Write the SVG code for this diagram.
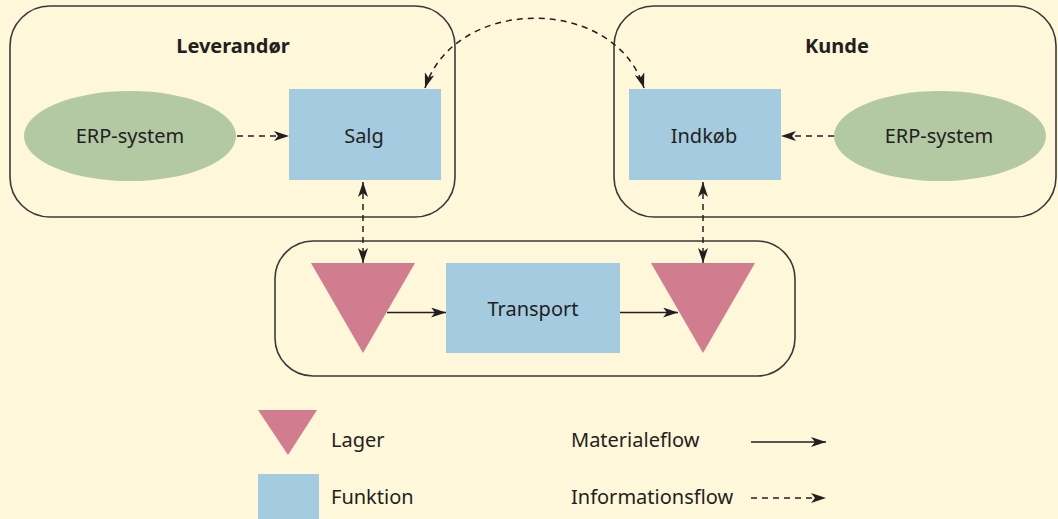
<svg xmlns="http://www.w3.org/2000/svg" width="1058" height="519" viewBox="0 0 1058 519">
<defs>
<style>
.bg{fill:#FEF7D9}
.box{fill:none;stroke:#3a3a3a;stroke-width:1.6}
.func{fill:#A4CBDF}
.erp{fill:#B2C9A3}
.lager{fill:#D27D8F}
.t{font-family:"Noto Sans","Liberation Sans",sans-serif;font-size:20px;fill:#231F20}
.c{text-anchor:middle}
.b{font-weight:bold}
.info{fill:none;stroke:#231F20;stroke-width:1.5;stroke-dasharray:6 5}
.mat{fill:none;stroke:#231F20;stroke-width:1.5}
</style>
<marker id="ah" viewBox="0 0 15 10" refX="15" refY="5" markerWidth="15" markerHeight="10" markerUnits="userSpaceOnUse" orient="auto-start-reverse">
<path d="M0,0 L15,5 L0,10 L4,5 Z" fill="#231F20"/>
</marker>
</defs>
<rect class="bg" x="0" y="0" width="1058" height="519"/>

<g id="leverandor">
<rect class="box" x="10" y="6" width="445" height="211" rx="40"/>
<text class="t c b" x="233" y="53">Leverandør</text>
</g>
<g id="kunde">
<rect class="box" x="614" y="6" width="442" height="211" rx="40"/>
<text class="t c b" x="837" y="53">Kunde</text>
</g>
<g id="transportzone">
<rect class="box" x="275" y="241" width="520" height="135" rx="38"/>
</g>

<g id="erp-left">
<ellipse class="erp" cx="130" cy="136" rx="106" ry="45"/>
<text class="t c" x="130" y="143">ERP-system</text>
</g>
<g id="salg">
<rect class="func" x="289" y="89" width="152" height="91"/>
<text class="t c" x="364" y="143">Salg</text>
</g>
<g id="indkob">
<rect class="func" x="629" y="89" width="152" height="91"/>
<text class="t c" x="704" y="143">Indkøb</text>
</g>
<g id="erp-right">
<ellipse class="erp" cx="940" cy="136" rx="106" ry="45"/>
<text class="t c" x="939" y="143">ERP-system</text>
</g>
<g id="lager-left">
<polygon class="lager" points="311,263 415,263 363,353"/>
</g>
<g id="transport">
<rect class="func" x="446" y="263" width="174" height="90"/>
<text class="t c" x="533" y="316">Transport</text>
</g>
<g id="lager-right">
<polygon class="lager" points="651,263 755,263 703,353"/>
</g>

<g id="connectors">
<line class="info" x1="237" y1="136" x2="289" y2="136" marker-end="url(#ah)"/>
<line class="info" x1="834" y1="136" x2="781" y2="136" marker-end="url(#ah)"/>
<line class="info" x1="363" y1="182" x2="363" y2="263" marker-start="url(#ah)" marker-end="url(#ah)"/>
<line class="info" x1="703" y1="182" x2="703" y2="263" marker-start="url(#ah)" marker-end="url(#ah)"/>
<path class="info" d="M425,88 C455,-5 615,-5 644,88" marker-start="url(#ah)" marker-end="url(#ah)"/>
<line class="mat" x1="387" y1="312.5" x2="446" y2="312.5" marker-end="url(#ah)"/>
<line class="mat" x1="620" y1="312.5" x2="678" y2="312.5" marker-end="url(#ah)"/>
</g>

<g id="legend">
<polygon class="lager" points="258,410 317,410 288,455"/>
<rect class="func" x="258" y="474" width="61" height="45"/>
<text class="t" x="331" y="447">Lager</text>
<text class="t" x="331" y="504">Funktion</text>
<text class="t" x="571" y="447">Materialeflow</text>
<text class="t" x="571" y="504">Informationsflow</text>
<line class="mat" x1="751" y1="442" x2="826" y2="442" marker-end="url(#ah)"/>
<line class="info" x1="751" y1="498" x2="826" y2="498" marker-end="url(#ah)"/>
</g>
</svg>
